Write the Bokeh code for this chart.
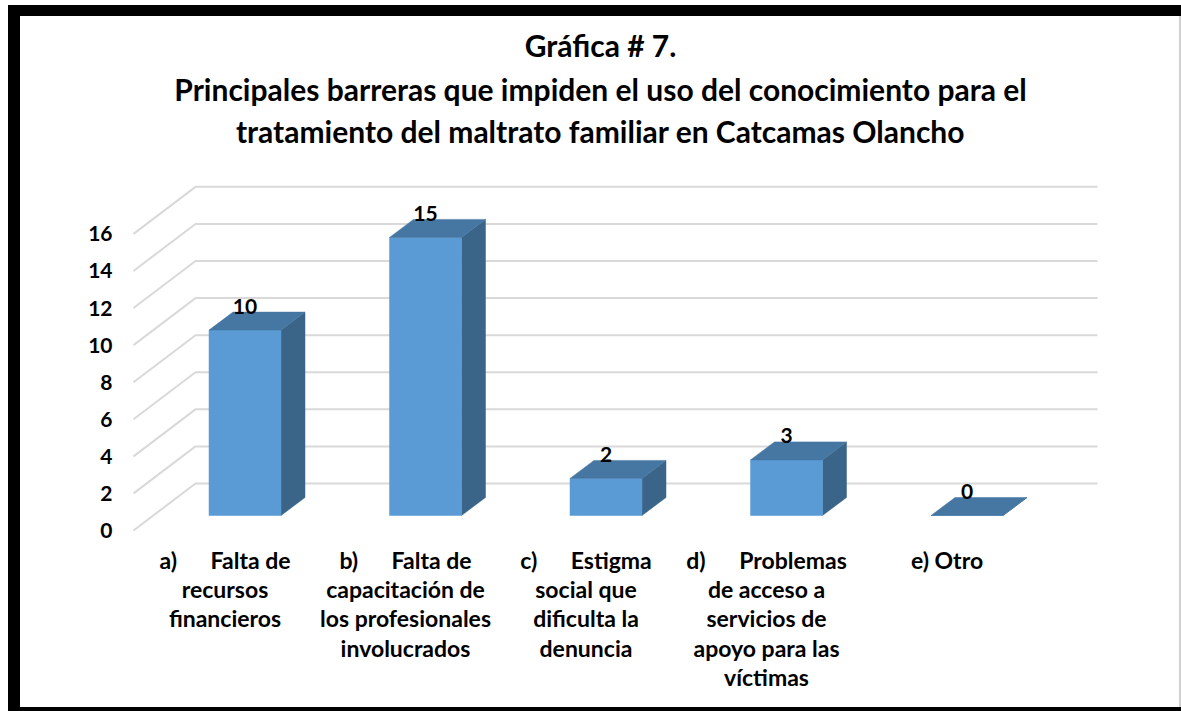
from bokeh.plotting import figure
from bokeh.models import Range1d, FixedTicker
from bokeh.core.properties import value
from bokeh.embed import file_html
from bokeh.resources import INLINE

# ---------------- data ----------------
NB = "\u00a0" * 6
categories = [
    "a)" + NB + "Falta de\nrecursos\nfinancieros",
    "b)" + NB + "Falta de\ncapacitación de\nlos profesionales\ninvolucrados",
    "c)" + NB + "Estigma\nsocial que\ndificulta la\ndenuncia",
    "d)" + NB + "Problemas\nde acceso a\nservicios de\napoyo para las\nvíctimas",
    "e) Otro",
]
values = [10, 15, 2, 3, 0]
y_ticks = [0, 2, 4, 6, 8, 10, 12, 14, 16]
title_lines = [
    "Gráfica # 7.",
    "Principales barreras que impiden el uso del conocimiento para el",
    "tratamiento del maltrato familiar en Catcamas Olancho",
]

# ---------------- layout (pixels) ----------------
FONT = "Lato"
W, H = 1181, 711
ML, MR, MT, MB = 125, 41, 20, 171
FRAME_W = W - ML - MR
FRAME_H = H - MT - MB
PXX = 180.5   # pixels per category step
PXY = 18.54   # pixels per value unit (front plane)
LEFT_PAD = 99.5   # px from frame left to first category centre
BOTTOM_PAD = 10   # px from frame bottom to value 0 (front plane)

x0 = -LEFT_PAD / PXX
y0 = -BOTTOM_PAD / PXY

p = figure(width=W, height=H, output_backend="svg", toolbar_location=None,
           x_range=Range1d(x0, x0 + FRAME_W / PXX),
           y_range=Range1d(y0, y0 + FRAME_H / PXY),
           min_border_left=ML, min_border_right=MR,
           min_border_top=MT, min_border_bottom=MB)
p.grid.visible = False
p.outline_line_color = None
p.background_fill_color = "white"
p.border_fill_color = None
p.styles = {"box-shadow": ("inset 8px 0 0 0 #fff, inset 0 5px 0 0 #fff, "
                           "inset 20px 0 0 0 #000, inset 0 16px 0 0 #000, "
                           "inset 0 -4px 0 0 #000, inset -2px 0 0 0 #d0d0d0")}

# ---------------- 3D back wall grid ----------------
GX_FRONT = -91.5 / PXX
GX_BACK = -29.5 / PXX
GX_END = 872.5 / PXX
G_DY = 47 / PXY
gxs, gys = [], []
for t in y_ticks:
    gxs.append([GX_FRONT, GX_BACK, GX_END])
    gys.append([t, t + G_DY, t + G_DY])
p.multi_line(gxs, gys, line_color="#D9D9D9", line_width=2)

# ---------------- 3D bars ----------------
BAR_SHIFT = 20 / PXX
BAR_HALF = 36 / PXX
DEP_X = 24 / PXX
DEP_Y = 18 / PXY
BASE = 15 / PXY
FRONT = "#5B9BD5"
TOP = "#4676A2"
SIDE = "#3B6489"

lefts, rights, bottoms, tops = [], [], [], []
top_xs, top_ys, side_xs, side_ys = [], [], [], []
for i, v in enumerate(values):
    c = i + BAR_SHIFT
    l, r = c - BAR_HALF, c + BAR_HALF
    b, t = BASE, BASE + v
    lefts.append(l); rights.append(r); bottoms.append(b); tops.append(t)
    top_xs.append([l, r, r + DEP_X, l + DEP_X])
    top_ys.append([t, t, t + DEP_Y, t + DEP_Y])
    side_xs.append([r, r + DEP_X, r + DEP_X, r])
    side_ys.append([b, b + DEP_Y, t + DEP_Y, t])

p.patches(side_xs, side_ys, fill_color=SIDE, line_color=SIDE, line_width=0.5)
p.quad(left=lefts, right=rights, bottom=bottoms, top=tops,
       fill_color=FRONT, line_color=FRONT, line_width=0.5)
p.patches(top_xs, top_ys, fill_color=TOP, line_color=TOP, line_width=0.5)

# value labels
LABEL_UP = 24 / PXY
p.text(x=[i + BAR_SHIFT for i in range(len(values))],
       y=[t + LABEL_UP for t in tops],
       text=[str(v) for v in values],
       text_font=value(FONT), text_font_style="bold", text_font_size="21px",
       text_align="center", text_baseline="middle", text_color="black")

# ---------------- title ----------------
TITLE_X = 375.5 / PXX
title_baselines_px = [44, 88, 130]
p.text(x=[TITLE_X] * 3,
       y=[(530 - yb) / PXY for yb in title_baselines_px],
       text=title_lines,
       text_font=value(FONT), text_font_style="bold", text_font_size="30px",
       text_align="center", text_baseline="alphabetic", text_color="black")

# ---------------- axes ----------------
ya = p.yaxis[0]
ya.ticker = FixedTicker(ticks=y_ticks)
ya.axis_line_color = None
ya.major_tick_line_color = None
ya.minor_tick_line_color = None
ya.major_tick_out = 0
ya.major_label_standoff = 13
ya.major_label_text_font = FONT
ya.major_label_text_font_style = "bold"
ya.major_label_text_font_size = "21px"
ya.major_label_text_color = "black"

xa = p.xaxis[0]
xa.ticker = FixedTicker(ticks=list(range(len(categories))))
xa.major_label_overrides = {i: c for i, c in enumerate(categories)}
xa.axis_line_color = None
xa.major_tick_line_color = None
xa.minor_tick_line_color = None
xa.major_tick_out = 0
xa.major_label_standoff = 5
xa.major_label_text_font = FONT
xa.major_label_text_font_style = "bold"
xa.major_label_text_font_size = "23px"
xa.major_label_text_line_height = 1.05
xa.major_label_text_color = "black"

open("out.html", "w").write(file_html(p, INLINE))
